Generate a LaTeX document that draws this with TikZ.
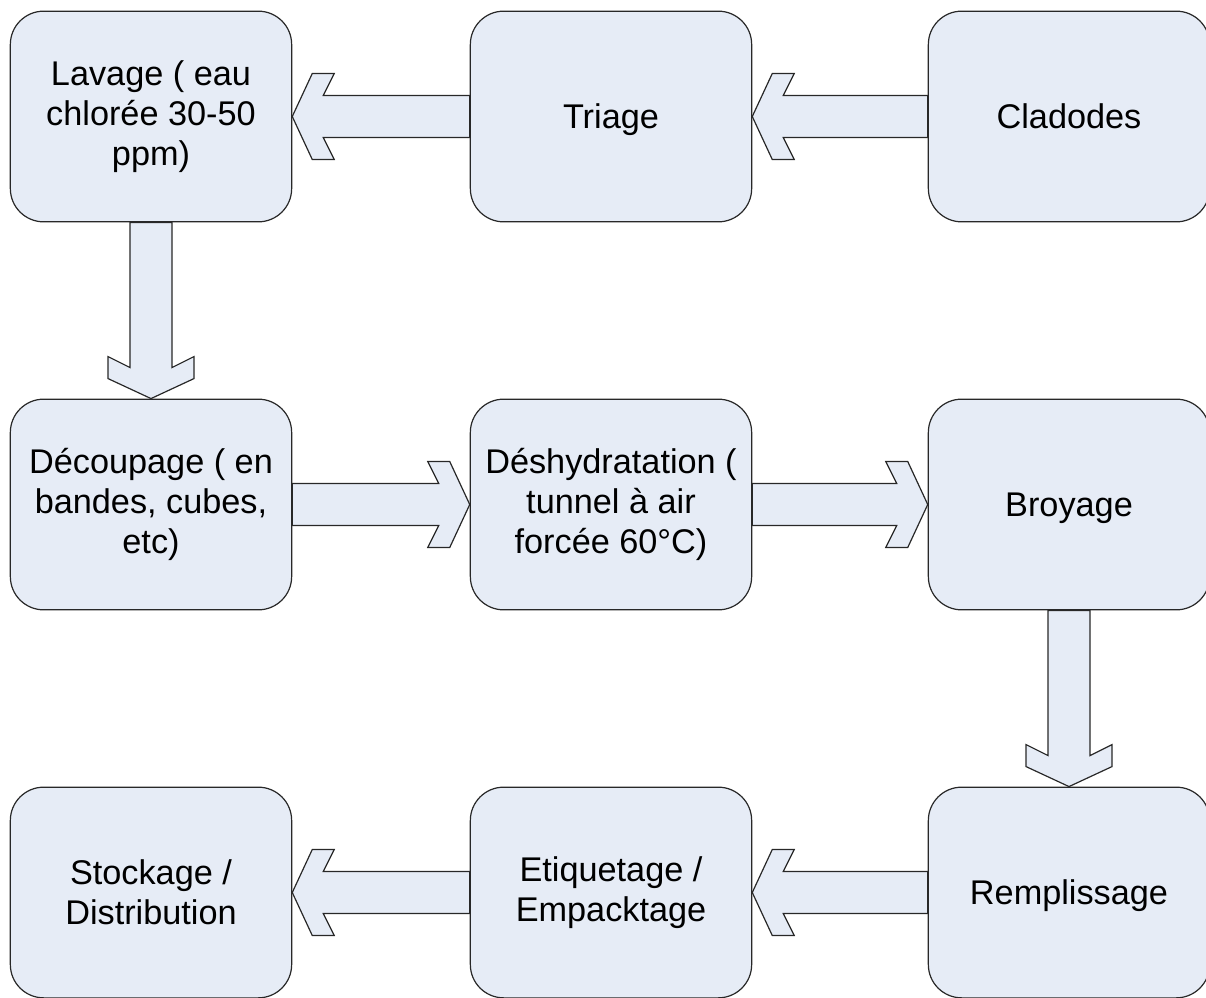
\documentclass[tikz,border=0pt]{standalone}
\usepackage{fontspec}
\setmainfont{Liberation Sans}
\usetikzlibrary{calc}
\definecolor{boxfill}{RGB}{230,236,246}
\definecolor{boxline}{RGB}{40,40,40}
\tikzset{
  stepbox/.style={draw=boxline, fill=boxfill, line width=0.9pt, rounded corners=25pt,
    minimum width=211pt, minimum height=158pt, inner sep=0pt, align=center,
    font=\fontsize{25.7}{30}\selectfont},
  oneline/.style={text depth=0pt},
  flow/.style={draw=boxline, fill=boxfill, line width=0.9pt, line join=miter}
}
\begin{document}
\begin{tikzpicture}[x=0.75pt,y=-0.75pt]
\useasboundingbox (0,0) rectangle (1206,997);
\clip (0,0) rectangle (1206,997);

% first row
\node[stepbox] (lav) at (151,116.5) {Lavage ( eau\\chlorée 30-50\\ppm)};
\node[stepbox,oneline] (tri) at (611,116.5) {Triage};
\node[stepbox] (clad) at (1069,116.5) {Cladodes};

% second row
\node[stepbox] (dec) at (151,504.5) {Découpage ( en\\bandes, cubes,\\etc)};
\node[stepbox] (desh) at (611,504.5) {Déshydratation (\\tunnel à air\\forcée 60°C)};
\node[stepbox,oneline] (broy) at (1069,504.5) {Broyage};

% third row
\node[stepbox] (stock) at (151,892.5) {Stockage /\\Distribution};
\node[stepbox] (etiq) at (611,892.5) {Etiquetage /\\Empacktage};
\node[stepbox,oneline] (remp) at (1069,892.5) {Remplissage};

% block arrows
\foreach \src/\dst in {clad/tri, tri/lav, remp/etiq, etiq/stock}
  \draw[flow] (\dst.east) -- ++(20,-43) -- ++(22,0) -- ++(-11,22)
    -- ($(\src.west)+(0,-21)$) -- ($(\src.west)+(0,21)$)
    -- ($(\dst.east)+(31,21)$) -- ++(11,22) -- ++(-22,0) -- cycle;

\foreach \src/\dst in {dec/desh, desh/broy}
  \draw[flow] (\dst.west) -- ++(-20,-43) -- ++(-22,0) -- ++(11,22)
    -- ($(\src.east)+(0,-21)$) -- ($(\src.east)+(0,21)$)
    -- ($(\dst.west)+(-31,21)$) -- ++(-11,22) -- ++(22,0) -- cycle;

\foreach \src/\dst in {lav/dec, broy/remp}
  \draw[flow] (\dst.north) -- ++(-43,-20) -- ++(0,-22) -- ++(22,11)
    -- ($(\src.south)+(-21,0)$) -- ($(\src.south)+(21,0)$)
    -- ($(\dst.north)+(21,-31)$) -- ++(22,-11) -- ++(0,22) -- cycle;
\end{tikzpicture}
\end{document}
